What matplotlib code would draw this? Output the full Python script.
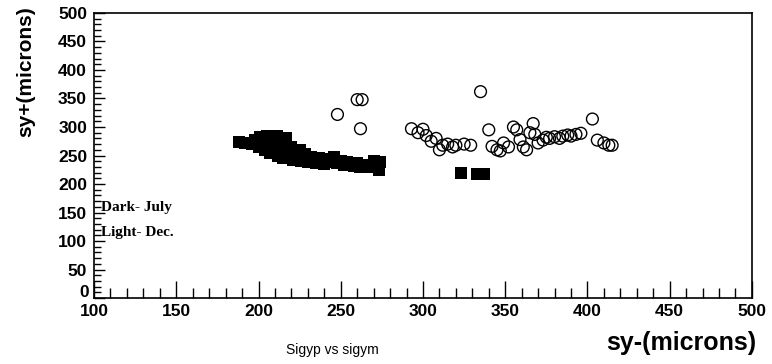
import numpy as np
import matplotlib
matplotlib.use("Agg")
import matplotlib.pyplot as plt
from matplotlib.ticker import MultipleLocator, FuncFormatter

# July (dark squares): sy-, sy+ in microns
julyX = [188, 192, 196, 198, 200, 201, 203, 204, 205, 206, 207, 208, 209, 210,
         211, 212, 213, 214, 215, 216, 217, 218, 219, 220, 221, 222, 224, 225,
         226, 228, 229, 230, 232, 234, 235, 237, 239, 240, 242, 244, 246, 248,
         250, 252, 254, 256, 258, 260, 262, 264, 266, 268, 270, 272, 273, 274,
         323, 333, 337]
julyY = [273, 272, 270, 278, 265, 282, 275, 260, 285, 270, 255, 280, 265, 272,
         284, 250, 262, 275, 245, 268, 280, 258, 250, 265, 242, 255, 248, 260,
         240, 252, 245, 238, 248, 242, 236, 245, 240, 235, 243, 238, 247, 236,
         240, 233, 238, 235, 232, 236, 230, 234, 231, 229, 240, 233, 225, 238,
         220, 218, 218]

# December (light circles)
decX = [248, 260, 263, 262, 335,
        293, 297, 300, 302, 305, 308, 310, 312, 315, 318, 320, 325, 329,
        340, 342, 345, 347, 349, 352, 355, 357, 359, 361, 363, 365, 367, 368,
        370, 373, 375, 377, 380, 383, 385, 388, 390, 393, 396, 403, 406, 410,
        413, 415]
decY = [322, 348, 348, 297, 362,
        297, 290, 296, 285, 275, 280, 260, 268, 270, 265, 268, 270, 268,
        295, 266, 260, 258, 272, 265, 300, 295, 278, 265, 260, 290, 306, 287,
        272, 277, 282, 280, 283, 280, 284, 286, 284, 287, 289, 314, 277, 272,
        268, 268]

fig = plt.figure(figsize=(7.72, 3.64), dpi=100)
ax = fig.add_axes([0.1218, 0.1813, 0.974 - 0.1218, 0.9643 - 0.1813])

ax.scatter(julyX, julyY, marker='s', s=74, c='black', linewidths=0)
ax.scatter(decX, decY, marker='o', s=72, facecolors='none', edgecolors='black',
           linewidths=1.0)

ax.set_xlim(100, 500)
ax.set_ylim(0, 500)

ax.xaxis.set_major_locator(MultipleLocator(50))
ax.xaxis.set_minor_locator(MultipleLocator(10))
ax.yaxis.set_major_locator(MultipleLocator(50))
ax.yaxis.set_minor_locator(MultipleLocator(10))
# "0" of the y axis is drawn by hand a bit higher, clear of the x "100"
ax.yaxis.set_major_formatter(FuncFormatter(lambda v, p: '' if v == 0 else '%d' % v))
ax.tick_params(which='both', direction='in', top=False, right=False,
               width=1.0, colors='black')
ax.tick_params(axis='x', which='major', length=12, pad=4)
ax.tick_params(axis='x', which='minor', length=7)
ax.tick_params(axis='y', which='major', length=8, pad=5)
ax.tick_params(axis='y', which='minor', length=5)

tickFont = ['Liberation Sans Narrow', 'Liberation Sans']
for lab in ax.get_xticklabels() + ax.get_yticklabels():
    lab.set_family(tickFont)
    lab.set_fontweight('bold')
    lab.set_fontsize(12.5)

ax.annotate('0', xy=(0, 0), xycoords='axes fraction', xytext=(-3.6, 4),
            textcoords='offset points', ha='right', va='center',
            family=tickFont, fontweight='bold', fontsize=12.5)

for sp in ax.spines.values():
    sp.set_linewidth(1.2)

ax.set_ylabel('sy+(microns)', family='Liberation Sans', fontweight='bold',
              fontsize=15)
ax.yaxis.set_label_coords(-0.09, 0.795)
fig.text(0.98, 0.025, 'sy-(microns)', ha='right', va='bottom',
         family='Liberation Sans', fontweight='bold', fontsize=18)
fig.text(0.43, 0.02, 'Sigyp vs sigym', ha='center', va='bottom',
         family=tickFont, fontsize=10)

ax.text(104, 158, 'Dark- July', ha='left', va='center',
        family='Liberation Serif', fontweight='bold', fontsize=11)
ax.text(104, 115, 'Light- Dec.', ha='left', va='center',
        family='Liberation Serif', fontweight='bold', fontsize=11)

fig.savefig('out.png', dpi=100)
